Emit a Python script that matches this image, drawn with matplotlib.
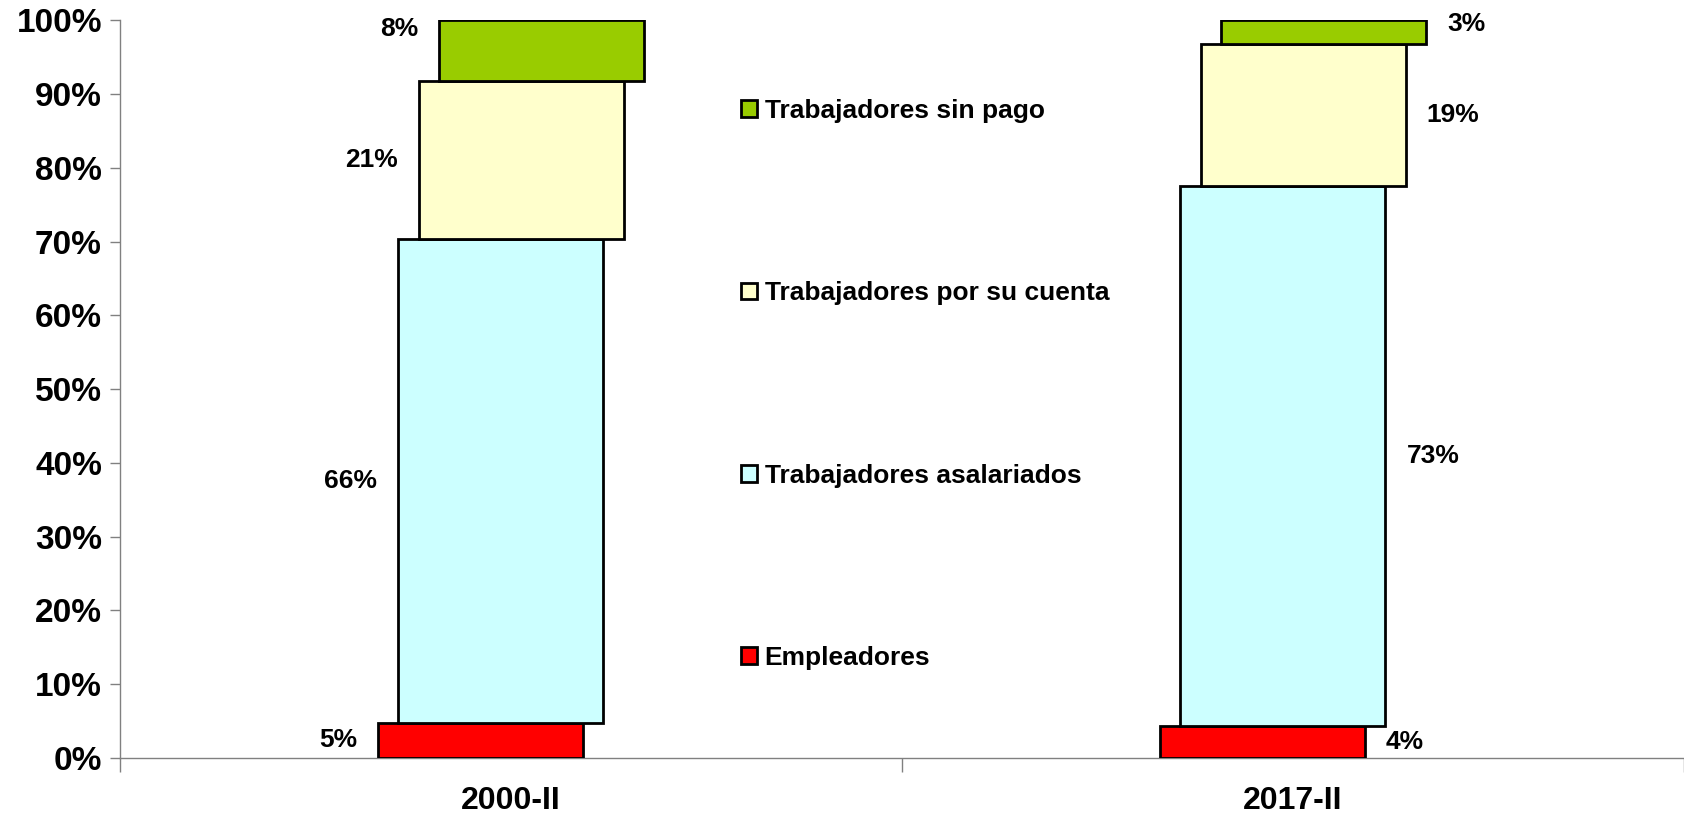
import matplotlib
matplotlib.use("Agg")
from matplotlib import pyplot as plt
from matplotlib.ticker import PercentFormatter

categories = ["2000-II", "2017-II"]
series = ["Empleadores", "Trabajadores asalariados",
          "Trabajadores por su cuenta", "Trabajadores sin pago"]
empleadores = [4.8, 4.4]
asalariados = [65.6, 73.2]
por_su_cuenta = [21.4, 19.2]
sin_pago = [8.2, 3.2]
colors = ["#FF0000", "#CCFFFF", "#FFFFCC", "#99CC00"]

plt.rcParams['font.family'] = ['Liberation Sans', 'DejaVu Sans']
plt.rcParams['font.weight'] = 'bold'

fig = plt.figure(figsize=(16.84, 8.13), dpi=100)
ax = fig.add_axes([120 / 1684, 1 - 758 / 813, 1 - 120 / 1684, (758 - 20.4) / 813])

values = [empleadores, asalariados, por_su_cuenta, sin_pago]
width = 0.262
shift = 0.026
gap = 0.027
bottoms = [0.0, 0.0]
handles = []
for k, (name, vals, col) in enumerate(zip(series, values, colors)):
    xs = [i + (k - 1.5) * shift for i in range(len(categories))]
    b = ax.bar(xs, vals, width, bottom=bottoms, color=col, edgecolor="black",
               linewidth=2.0, label=name, zorder=3)
    handles.append(b)
    for i, v in enumerate(vals):
        # top segment labels sit near the top of the segment
        frac = 0.85 if k == len(series) - 1 else 0.5
        yc = bottoms[i] + v * frac
        if i == 0:
            ax.text(xs[i] - width / 2 - gap, yc, f"{v:.0f}%", ha="right", va="center",
                    fontsize=19, fontweight="bold")
        else:
            ax.text(xs[i] + width / 2 + gap, yc, f"{v:.0f}%", ha="left", va="center",
                    fontsize=19, fontweight="bold")
    bottoms = [bottoms[i] + vals[i] for i in range(len(categories))]

ax.set_xlim(-0.5, 1.5)
ax.set_ylim(0, 100)
ax.set_yticks(range(0, 101, 10))
ax.yaxis.set_major_formatter(PercentFormatter(decimals=0))
ax.set_xticks(range(len(categories)))
ax.set_xticklabels(categories)
ax.set_xticks([-0.5, 0.5, 1.5], minor=True)
ax.tick_params(axis="x", which="major", length=0, pad=20, labelsize=23)
ax.tick_params(axis="x", which="minor", length=10, color="#808080", width=1)
ax.tick_params(axis="y", length=7, color="#808080", width=1, labelsize=24, pad=6)
for s in ["top", "right"]:
    ax.spines[s].set_visible(False)
for s in ["left", "bottom"]:
    ax.spines[s].set_color("#808080")
    ax.spines[s].set_linewidth(1)

leg = ax.legend(handles[::-1], series[::-1], loc="upper left",
                bbox_to_anchor=(741 / 1684, 1 - 99 / 813), bbox_transform=fig.transFigure,
                frameon=False, borderpad=0, borderaxespad=0, fontsize=19,
                handlelength=0.6, handleheight=0.6, handletextpad=0.3, labelspacing=6.0)
for t in leg.get_texts():
    t.set_fontweight("bold")

fig.savefig("out.png", dpi=100)
